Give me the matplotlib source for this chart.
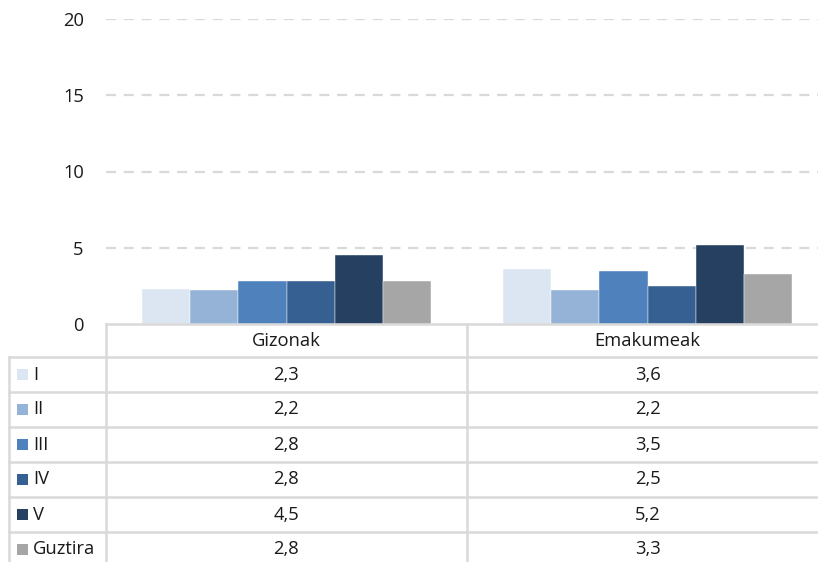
import matplotlib
matplotlib.use("Agg")
import matplotlib.pyplot as plt
from matplotlib.patches import Rectangle
from matplotlib.lines import Line2D
import numpy as np

plt.rcParams['font.family'] = ['Open Sans', 'DejaVu Sans']

categories = ["Gizonak", "Emakumeak"]
series = ["I", "II", "III", "IV", "V", "Guztira"]
values = [
    [2.3, 3.6],
    [2.2, 2.2],
    [2.8, 3.5],
    [2.8, 2.5],
    [4.5, 5.2],
    [2.8, 3.3],
]
labels = [
    ["2,3", "3,6"],
    ["2,2", "2,2"],
    ["2,8", "3,5"],
    ["2,8", "2,5"],
    ["4,5", "5,2"],
    ["2,8", "3,3"],
]
colors = ["#DCE6F2", "#95B3D7", "#4F81BD", "#366092", "#254061", "#A6A6A6"]
yticks = [0, 5, 10, 15, 20]

W, H = 818, 562
FS = 13.2
TC = "#1a1a1a"
fig = plt.figure(figsize=(W / 100, H / 100), dpi=100)

# layout (pixels)
x_left, x_right = 106, 828
y_zero, y_top = 324, 19
ax = fig.add_axes([x_left / W, (H - y_zero) / H, (x_right - x_left) / W, (y_zero - y_top) / H])
ax.set_xlim(-0.5, len(categories) - 0.5)
ax.set_ylim(0, 20)

n = len(series)
bw = 0.8 / n
x = np.arange(len(categories))
for i, (s, v, c) in enumerate(zip(series, values, colors)):
    ax.bar(x - 0.4 + bw * (i + 0.5), v, width=bw, color=c, edgecolor="white", linewidth=0.3, zorder=3)

ax.set_yticks(yticks)
ax.set_yticklabels([str(t) for t in yticks], fontsize=FS, color=TC)
ax.tick_params(axis="y", length=0, pad=16)
ax.set_xticks([])
for t in yticks[1:]:
    ax.axhline(t, color="#D9D9D9", linestyle=(0, (4.5, 3.5)), linewidth=1.6, zorder=1)
for sp in ax.spines.values():
    sp.set_visible(False)

# table overlay in pixel coordinates
tab = fig.add_axes([0, 0, 1, 1], zorder=5)
tab.set_xlim(0, W)
tab.set_ylim(H, 0)
tab.axis("off")
lc = "#D9D9D9"
lw = 1.8
col_w = (x_right - x_left) / len(categories)
left_edge = 9
header_bottom = 357
row_h = 35

# header
tab.add_line(Line2D([x_left, W + 20], [y_zero, y_zero], color=lc, lw=lw))
for j in range(len(categories) + 1):
    xv = x_left + j * col_w
    tab.add_line(Line2D([xv, xv], [y_zero, H + 10], color=lc, lw=lw))
tab.add_line(Line2D([left_edge, left_edge], [header_bottom, H + 10], color=lc, lw=lw))
for j, cat in enumerate(categories):
    tab.text(x_left + (j + 0.5) * col_w, (y_zero + header_bottom) / 2, cat,
             ha="center", va="center", fontsize=FS, color=TC)
for i in range(n + 1):
    yy = header_bottom + i * row_h
    tab.add_line(Line2D([left_edge, W + 20], [yy, yy], color=lc, lw=lw))
for i, s in enumerate(series):
    yc = header_bottom + (i + 0.5) * row_h
    tab.add_patch(Rectangle((17, yc - 5.5), 11, 11, facecolor=colors[i], edgecolor="none"))
    tab.text(33, yc, s, ha="left", va="center", fontsize=FS, color=TC)
    for j in range(len(categories)):
        tab.text(x_left + (j + 0.5) * col_w, yc, labels[i][j], ha="center", va="center",
                 fontsize=FS, color=TC)

fig.savefig("out.png", dpi=100)
